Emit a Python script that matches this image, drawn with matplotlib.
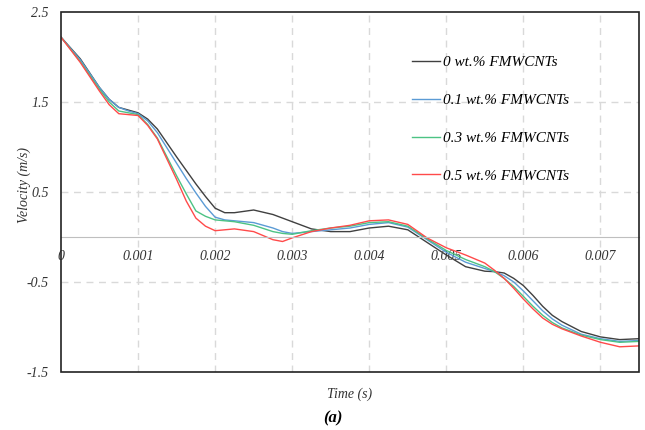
import matplotlib.pyplot as plt
from matplotlib.patches import Rectangle

# time in ms (converted to s below)
t_ms = [0, 0.25, 0.5, 0.625, 0.75, 0.875, 1.0, 1.125, 1.25, 1.5, 1.625, 1.75, 1.875, 2.0, 2.125,
        2.25, 2.5, 2.75, 2.875, 3.0, 3.25, 3.5, 3.75, 4.0, 4.25, 4.5, 4.75, 5.0, 5.25, 5.5, 5.625,
        5.75, 5.875, 6.0, 6.125, 6.25, 6.375, 6.5, 6.75, 7.0, 7.25, 7.5]
time = [v / 1000 for v in t_ms]

v_0 = [2.22, 1.98, 1.66, 1.53, 1.44, 1.41, 1.38, 1.31, 1.20, 0.89, 0.74, 0.59, 0.45, 0.32, 0.27,
       0.27, 0.30, 0.25, 0.21, 0.17, 0.09, 0.06, 0.06, 0.10, 0.12, 0.08, -0.06, -0.20, -0.33, -0.38, -0.385,
       -0.40, -0.46, -0.54, -0.65, -0.77, -0.87, -0.94, -1.05, -1.11, -1.14, -1.13]
v_01 = [2.22, 1.97, 1.66, 1.53, 1.44, 1.40, 1.37, 1.29, 1.16, 0.82, 0.65, 0.49, 0.34, 0.22, 0.19,
        0.18, 0.16, 0.10, 0.06, 0.04, 0.06, 0.08, 0.10, 0.14, 0.16, 0.11, -0.03, -0.17, -0.28, -0.35, -0.385,
        -0.43, -0.50, -0.60, -0.71, -0.82, -0.91, -0.98, -1.08, -1.13, -1.16, -1.15]
v_03 = [2.22, 1.95, 1.64, 1.50, 1.40, 1.38, 1.36, 1.25, 1.10, 0.68, 0.48, 0.29, 0.23, 0.19, 0.18,
        0.17, 0.13, 0.06, 0.04, 0.03, 0.07, 0.10, 0.12, 0.16, 0.17, 0.12, -0.02, -0.15, -0.25, -0.33, -0.385,
        -0.46, -0.55, -0.66, -0.77, -0.87, -0.95, -1.01, -1.09, -1.14, -1.17, -1.16]
v_05 = [2.22, 1.94, 1.62, 1.47, 1.37, 1.36, 1.35, 1.24, 1.09, 0.64, 0.40, 0.21, 0.12, 0.07, 0.08,
        0.09, 0.06, -0.03, -0.05, -0.01, 0.06, 0.10, 0.13, 0.18, 0.19, 0.14, -0.01, -0.12, -0.20, -0.29, -0.37,
        -0.46, -0.57, -0.69, -0.80, -0.90, -0.97, -1.02, -1.10, -1.17, -1.22, -1.21]

labels = ['0 wt.% FMWCNTs', '0.1 wt.% FMWCNTs', '0.3 wt.% FMWCNTs', '0.5 wt.% FMWCNTs']
colors = ['#404040', '#5b9bd5', '#4cc384', '#ff4a4a']

xticks = [0, 0.001, 0.002, 0.003, 0.004, 0.005, 0.006, 0.007]
xtick_labels = ['0', '0.001', '0.002', '0.003', '0.004', '0.005', '0.006', '0.007']
yticks = [-1.5, -0.5, 0.5, 1.5, 2.5]
ytick_labels = ['-1.5', '-0.5', '0.5', '1.5', '2.5']

plt.rcParams['font.family'] = 'Liberation Serif'
plt.rcParams['font.style'] = 'italic'

fig = plt.figure(figsize=(6.45, 4.3), dpi=100)
ax = fig.add_axes([61 / 645, 58 / 430, 578 / 645, 360 / 430])

for y, lab, c in zip([v_0, v_01, v_03, v_05], labels, colors):
    ax.plot(time, y, color=c, lw=1.0, label=lab)

ax.set_xlim(0, 0.0075)
ax.set_ylim(-1.5, 2.5)
ax.set_xticks(xticks)
ax.set_xticklabels(xtick_labels)
ax.set_yticks(yticks)
ax.set_yticklabels(ytick_labels)

# grid
for x in xticks[1:]:
    ax.axvline(x, color='#d9d9d9', lw=1, ls=(0, (5, 4)), zorder=0)
for y in [-0.5, 0.5, 1.5]:
    ax.axhline(y, color='#d9d9d9', lw=1, ls=(0, (5, 4)), zorder=0)

# x axis at y = 0
for s in ['top', 'right', 'left']:
    ax.spines[s].set_visible(False)
ax.spines['bottom'].set_position(('data', 0))
ax.spines['bottom'].set_color('#bfbfbf')
ax.tick_params(axis='x', length=0, pad=9, labelsize=10, labelcolor='#333333')
ax.tick_params(axis='y', length=0, pad=9, labelsize=10, labelcolor='#333333')
ax.add_patch(Rectangle((0, 0), 1, 1, transform=ax.transAxes, fill=False,
                       edgecolor='#222222', lw=1.2, clip_on=False, zorder=5))

ax.set_xlabel('Time (s)', fontsize=10, color='#333333')
ax.xaxis.set_label_coords(0.5, -0.044)
ax.set_ylabel('Velocity (m/s)', fontsize=10, color='#333333')
ax.yaxis.set_label_coords(-0.052, 0.52)

ax.legend(loc='upper left', bbox_to_anchor=(0.607, 0.879), frameon=False,
          fontsize=11, labelspacing=1.58, handlelength=1.83, handletextpad=0.2,
          borderpad=0, borderaxespad=0)

fig.text(0.516, 0.028, '(a)', fontsize=12, fontweight='bold', ha='center', va='center')

fig.savefig('out.png', dpi=100)
